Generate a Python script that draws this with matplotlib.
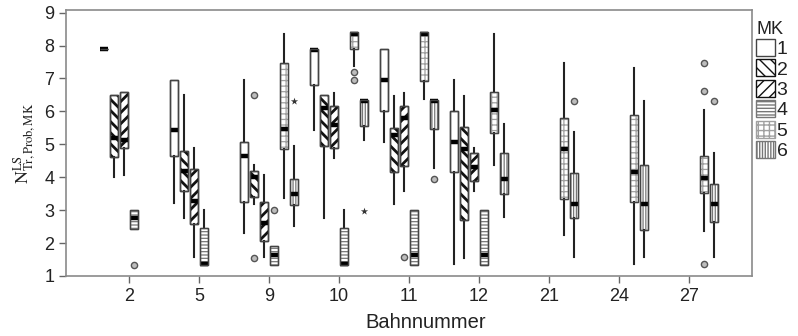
import matplotlib
matplotlib.use('Agg')
import matplotlib.pyplot as plt
import matplotlib.patches as mpatches
import numpy as np

plt.rcParams['font.family'] = ['Liberation Sans', 'DejaVu Sans']
plt.rcParams['mathtext.fontset'] = 'stix'
plt.rcParams['hatch.linewidth'] = 1.0

categories = ['2', '5', '9', '10', '11', '12', '21', '24', '27']
mk_labels = ['1', '2', '3', '4', '5', '6']
nan = np.nan

# rows = Bahnnummer, columns = MK 1..6
whislo = [
    [7.90, 4.02, 4.07, 2.43, nan, nan],
    [3.23, 2.75, 1.59, 1.33, nan, nan],
    [2.30, 3.19, 1.59, 1.33, 3.36, 2.53],
    [5.44, 2.75, 4.58, 1.33, 7.39, 5.13],
    [5.08, 3.18, 3.58, 1.33, 6.37, 4.29],
    [1.36, 1.54, 3.58, 1.33, 4.37, 2.78],
    [nan, nan, nan, nan, 2.25, 1.59],
    [nan, nan, nan, nan, 1.35, 1.59],
    [nan, nan, nan, nan, 2.37, 1.59],
]
q1 = [
    [7.90, 4.60, 4.88, 2.43, nan, nan],
    [4.63, 3.58, 2.57, 1.33, nan, nan],
    [3.24, 3.41, 2.07, 1.33, 4.85, 3.16],
    [6.79, 4.95, 4.88, 1.33, 7.90, 5.57],
    [6.02, 4.17, 4.35, 1.33, 6.91, 5.46],
    [4.15, 2.70, 3.89, 1.33, 5.34, 3.48],
    [nan, nan, nan, nan, 3.34, 2.75],
    [nan, nan, nan, nan, 3.24, 2.40],
    [nan, nan, nan, nan, 3.51, 2.65],
]
med = [
    [7.90, 5.18, 5.13, 2.75, nan, nan],
    [5.44, 4.19, 3.28, 1.35, nan, nan],
    [4.63, 4.02, 2.60, 1.64, 5.46, 3.48],
    [7.87, 6.10, 5.59, 1.35, 8.35, 6.32],
    [6.94, 5.29, 5.79, 1.64, 8.35, 6.32],
    [5.08, 4.85, 4.32, 1.64, 6.05, 3.95],
    [nan, nan, nan, nan, 4.85, 3.18],
    [nan, nan, nan, nan, 4.17, 3.18],
    [nan, nan, nan, nan, 3.99, 3.18],
]
q3 = [
    [7.90, 6.50, 6.58, 3.01, nan, nan],
    [6.96, 4.81, 4.25, 2.45, nan, nan],
    [5.08, 4.19, 3.26, 1.91, 7.48, 3.95],
    [7.90, 6.50, 6.17, 2.45, 8.40, 6.35],
    [7.89, 5.49, 6.17, 3.01, 8.40, 6.35],
    [6.02, 5.52, 4.73, 3.01, 6.60, 4.73],
    [nan, nan, nan, nan, 5.79, 4.12],
    [nan, nan, nan, nan, 5.89, 4.37],
    [nan, nan, nan, nan, 4.63, 3.79],
]
whishi = [
    [7.90, 6.50, 6.58, 3.01, nan, nan],
    [6.96, 6.50, 4.90, 3.01, nan, nan],
    [6.94, 4.37, 4.07, 1.91, 8.35, 4.96],
    [7.90, 6.50, 6.55, 3.01, 8.40, 6.35],
    [7.89, 6.48, 6.55, 3.01, 8.40, 6.35],
    [6.94, 6.48, 4.90, 3.01, 8.35, 5.62],
    [nan, nan, nan, nan, 7.46, 5.37],
    [nan, nan, nan, nan, 7.33, 6.32],
    [nan, nan, nan, nan, 6.03, 4.73],
]
# (Bahnnummer index, MK index, value)
outliers = [
    (0, 3, 1.33), (2, 1, 6.50), (2, 1, 1.54), (2, 3, 3.01),
    (3, 4, 7.21), (3, 4, 6.94), (4, 2, 1.59), (4, 5, 3.95),
    (6, 5, 6.33), (8, 4, 7.48), (8, 4, 6.62), (8, 4, 1.35), (8, 5, 6.33),
]
extremes = [(2, 5, 6.32), (3, 5, 2.96)]

hatches = ['', '\\\\\\', '///', '-----', '+++', '||||||']
hatch_colors = ['#333333', '#111111', '#111111', '#777777', '#a0a0a0', '#777777']
hatch_widths = [1.0, 2.0, 2.0, 0.9, 0.9, 0.9]

step = 0.143
width = 0.11


def pos(ci, mi):
    return ci + (mi - 2.5) * step


fig = plt.figure(figsize=(7.98, 3.36), dpi=100)
ax = fig.add_axes([0.0827, 0.1786, 0.8597, 0.7916])

stats, positions, box_mk = [], [], []
for ci in range(len(categories)):
    for mi in range(len(mk_labels)):
        if np.isnan(med[ci][mi]):
            continue
        stats.append(dict(med=med[ci][mi], q1=q1[ci][mi], q3=q3[ci][mi],
                          whislo=whislo[ci][mi], whishi=whishi[ci][mi], fliers=[]))
        positions.append(pos(ci, mi))
        box_mk.append(mi)

bp = ax.bxp(stats, positions=positions, widths=width, patch_artist=True,
            showfliers=False, showcaps=False, manage_ticks=False,
            boxprops=dict(facecolor='white', linewidth=1.0),
            whiskerprops=dict(color='#222222', linewidth=1.5),
            medianprops=dict(color='black', linewidth=3.2, solid_capstyle='butt'))

for box, mi in zip(bp['boxes'], box_mk):
    box.set_hatch(hatches[mi])
    box.set_edgecolor(hatch_colors[mi])
    if hasattr(box, 'set_hatch_linewidth'):
        box.set_hatch_linewidth(hatch_widths[mi])
    ax.add_patch(mpatches.PathPatch(box.get_path(), fill=False,
                                    edgecolor='#444444', linewidth=1.0, zorder=2.5))

ax.scatter([pos(c, m) for c, m, v in outliers], [v for c, m, v in outliers],
           s=20, marker='o', facecolor='#bdbdbd', edgecolor='#555555',
           linewidth=1.0, zorder=4)
ax.scatter([pos(c, m) for c, m, v in extremes], [v for c, m, v in extremes],
           s=30, marker='*', color='#333333', linewidth=0, zorder=4)

ax.set_xlim(-0.9, len(categories) - 0.1)
ax.set_ylim(1, 9.08)
ax.set_xticks(range(len(categories)))
ax.set_xticklabels(categories)
ax.set_yticks(range(1, 10))
ax.tick_params(labelsize=13, colors='#222222', length=5, width=1.0)
ax.tick_params(axis='both', color='#666666')
for sp in ax.spines.values():
    sp.set_color('#8a8a8a')
    sp.set_linewidth(1.2)

ax.set_xlabel('Bahnnummer', fontsize=14.5, color='#222222')
ax.xaxis.set_label_coords(0.525, -0.14)
ax.set_ylabel(r'$\mathrm{N}^{\mathrm{LS}}_{\mathrm{Tr,Prob,MK}}$', fontsize=13,
              color='#222222')
ax.yaxis.set_label_coords(-0.041, 0.5)

handles = []
for i in range(6):
    h = mpatches.Patch(facecolor='white', edgecolor=hatch_colors[i] if i else '#444444',
                       hatch=hatches[i], linewidth=1.0)
    if hasattr(h, 'set_hatch_linewidth'):
        h.set_hatch_linewidth(hatch_widths[i])
    handles.append(h)
leg = ax.legend(handles, mk_labels, title='MK', loc='upper left',
                bbox_to_anchor=(1.006, 0.96), frameon=False, fontsize=14,
                title_fontsize=13, handlelength=0.95, handleheight=0.95,
                handletextpad=0.1, labelspacing=0.07, borderpad=0,
                borderaxespad=0)
leg._legend_box.align = 'left'
for t in leg.get_texts():
    t.set_color('#222222')
leg.get_title().set_color('#222222')

fig.savefig('out.png', dpi=100)
